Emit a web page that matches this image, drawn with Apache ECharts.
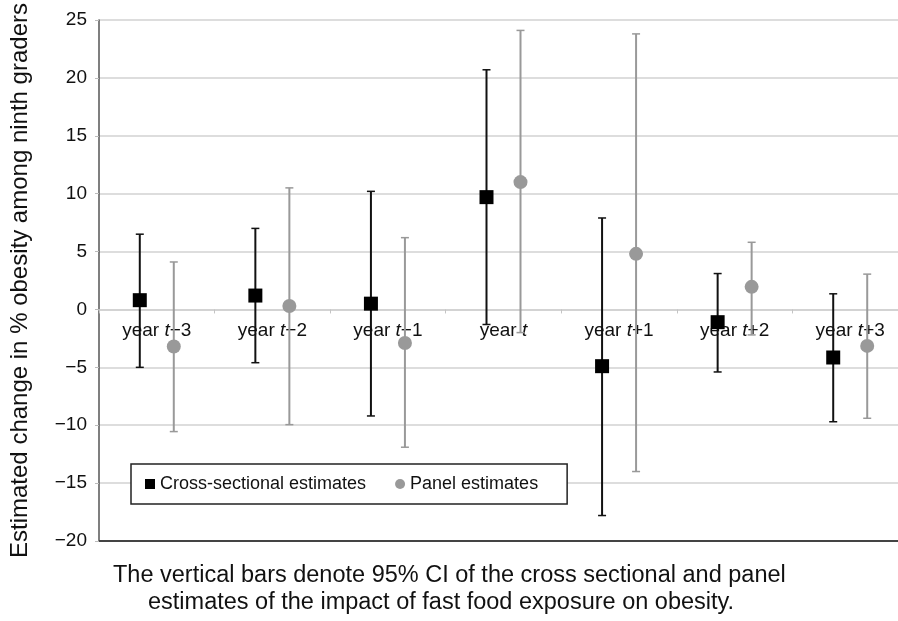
<!DOCTYPE html>
<html>
<head>
<meta charset="utf-8">
<script src="https://cdn.jsdelivr.net/npm/echarts@6/dist/echarts.min.js"></script>
<style>
  html, body { margin: 0; padding: 0; background: #fff; overflow: hidden; }
  #chart { width: 910px; height: 621px; }
</style>
</head>
<body>
<div id="chart"></div>
<script>
// year offsets shown after the italic t
const yearSuffix = ['\u22123', '\u22122', '\u22121', '', '+1', '+2', '+3'];

// cross-sectional estimates and 95% CI
const crossEst = [0.8, 1.2, 0.5, 9.7, -4.9, -1.1, -4.15];
const crossLow = [-5.0, -4.6, -9.2, -1.3, -17.8, -5.4, -9.7];
const crossHigh = [6.5, 7.0, 10.2, 20.7, 7.9, 3.1, 1.35];

// panel estimates and 95% CI
const panelEst = [-3.2, 0.3, -2.9, 11.0, 4.8, 1.95, -3.15];
const panelLow = [-10.55, -9.95, -11.9, -2.0, -14.0, -2.2, -9.4];
const panelHigh = [4.1, 10.5, 6.2, 24.1, 23.8, 5.8, 3.05];

const yTicks = { min: -20, max: 25, step: 5 };

const FONT = '"Liberation Sans", Arial, sans-serif';
const OFF = 17; // px shift of each series from the category centre
const GRID = { left: 98, right: 2, top: 20, bottom: 80 };
const gridH = 621 - GRID.top - GRID.bottom;
// lift the category axis up to the zero line
const zeroLift = gridH * (0 - yTicks.min) / (yTicks.max - yTicks.min);

function minus(v) {
  return v < 0 ? '\u2212' + Math.abs(v) : String(v);
}

// vertical CI bar with small caps
function ciBars(offset, color, width) {
  return function (params, api) {
    const top = api.coord([api.value(0), api.value(2)]);
    const bot = api.coord([api.value(0), api.value(1)]);
    const x = top[0] + offset;
    const cap = 4;
    return {
      type: 'group',
      children: [
        { type: 'line', shape: { x1: x, y1: top[1], x2: x, y2: bot[1] }, style: { stroke: color, lineWidth: width } },
        { type: 'line', shape: { x1: x - cap, y1: top[1], x2: x + cap, y2: top[1] }, style: { stroke: color, lineWidth: 1.5 } },
        { type: 'line', shape: { x1: x - cap, y1: bot[1], x2: x + cap, y2: bot[1] }, style: { stroke: color, lineWidth: 1.5 } }
      ]
    };
  };
}

const chart = echarts.init(document.getElementById('chart'));
chart.setOption({
  animation: false,
  textStyle: { fontFamily: FONT },
  grid: GRID,
  legend: {
    left: 131,
    top: 464,
    orient: 'horizontal',
    padding: [11, 29, 11, 14],
    itemGap: 29,
    itemWidth: 10,
    itemHeight: 10,
    backgroundColor: '#fff',
    borderColor: '#222',
    borderWidth: 1.5,
    borderRadius: 0,
    textStyle: { fontSize: 18, color: '#111', fontFamily: FONT },
    data: [
      { name: 'Cross-sectional estimates', icon: 'rect' },
      { name: 'Panel estimates', icon: 'circle' }
    ]
  },
  xAxis: {
    type: 'category',
    data: yearSuffix,
    boundaryGap: true,
    position: 'bottom',
    offset: -zeroLift,
    axisLine: { onZero: false, lineStyle: { color: '#cfcfcf', width: 1.5 } },
    axisTick: { show: true, length: 4, lineStyle: { color: '#c4c4c4' } },
    axisLabel: {
      interval: 0,
      margin: 12,
      fontSize: 19,
      color: '#111',
      formatter: function (v) { return '{a|year }{i|t}{a|' + v + '}'; },
      rich: {
        a: { fontSize: 19, color: '#111', fontFamily: FONT },
        i: { fontSize: 19, color: '#111', fontFamily: FONT, fontStyle: 'italic' }
      }
    },
    splitLine: { show: false }
  },
  yAxis: {
    type: 'value',
    min: yTicks.min,
    max: yTicks.max,
    interval: yTicks.step,
    name: 'Estimated change in % obesity among ninth graders',
    nameLocation: 'middle',
    nameGap: 67,
    nameTextStyle: { fontSize: 24, color: '#111', fontFamily: FONT },
    axisLine: { show: true, lineStyle: { color: '#555', width: 1.5 } },
    axisTick: { show: true, length: 4, lineStyle: { color: '#bbb' } },
    axisLabel: { margin: 12, fontSize: 19, color: '#111', formatter: minus },
    splitLine: { show: true, lineStyle: { color: '#d2d2d2', width: 1.5 } }
  },
  series: [
    {
      type: 'custom',
      name: 'crossCI',
      renderItem: ciBars(-OFF, '#111', 2),
      data: crossEst.map((_, i) => [i, crossLow[i], crossHigh[i]]),
      z: 3
    },
    {
      type: 'custom',
      name: 'panelCI',
      renderItem: ciBars(OFF, '#999', 2),
      data: panelEst.map((_, i) => [i, panelLow[i], panelHigh[i]]),
      z: 3
    },
    {
      type: 'scatter',
      name: 'Cross-sectional estimates',
      symbol: 'rect',
      symbolSize: 14,
      symbolOffset: [-OFF, 0],
      itemStyle: { color: '#000', opacity: 1 },
      data: crossEst.map((v, i) => [i, v]),
      z: 5,
      markLine: {
        silent: true,
        symbol: ['none', 'none'],
        label: { show: false },
        lineStyle: { color: '#444', width: 2, type: 'solid' },
        data: [{ yAxis: yTicks.min }]
      }
    },
    {
      type: 'scatter',
      name: 'Panel estimates',
      symbol: 'circle',
      symbolSize: 14,
      symbolOffset: [OFF, 0],
      itemStyle: { color: '#999', opacity: 1 },
      data: panelEst.map((v, i) => [i, v]),
      z: 5
    }
  ],
  graphic: [
    {
      type: 'text',
      left: 113,
      top: 564,
      style: { text: 'The vertical bars denote 95% CI of the cross sectional and panel', font: '23.5px ' + FONT, fill: '#111' }
    },
    {
      type: 'text',
      left: 148,
      top: 591,
      style: { text: 'estimates of the impact of fast food exposure on obesity.', font: '23.5px ' + FONT, fill: '#111' }
    }
  ]
});
</script>
</body>
</html>
